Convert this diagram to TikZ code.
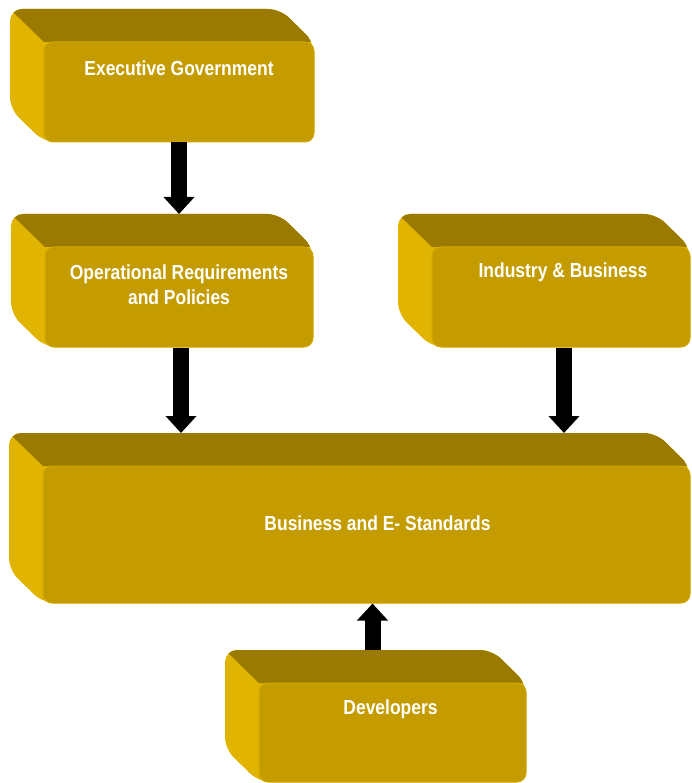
\documentclass[tikz,border=0pt]{standalone}
\usepackage{fontspec}
\setmainfont{Liberation Sans}
\newfontfamily\lblfont[FakeStretch=0.86]{Liberation Sans}
\usetikzlibrary{arrows.meta}
\definecolor{slabfront}{HTML}{C49C00}
\definecolor{slabtop}{HTML}{9A7A00}
\definecolor{slabside}{HTML}{E0B400}
\definecolor{slabedge}{HTML}{D2A700}
\newcommand{\slabback}[4]{%
  \fill[sideface] (#1-34,#2-33) -- (#3-34,#2-33) -- (#3,#2) -- (#3,#4) -- (#1,#4) -- (#1-34,#4-33) -- cycle;
  \begin{scope}
    \clip[rounded corners=12pt] (#1-34,#2-33) -- (#3-34,#2-33) -- (#3,#2) -- (#3,#4) -- (#1,#4) -- (#1-34,#4-33) -- cycle;
    \fill[slabtop] (#1-34,#2-33) -- (#3-34,#2-33) -- (#3,#2) -- (#1,#2) -- cycle;
  \end{scope}}

\begin{document}
\begin{tikzpicture}[x=1pt, y=-1pt,
  sideface/.style={fill=slabside, rounded corners=12pt},
  front/.style={rectangle, rounded corners=9pt, fill=slabfront, draw=slabedge, line width=1pt},
  lbl/.style={text=white, font=\lblfont\bfseries\fontsize{20.3}{24.5}\selectfont, align=center},
  arr/.style={line width=16pt, -{Triangle[width=30pt, length=17pt]}}]
\useasboundingbox (0,0) rectangle (691,783);

\slabback{44}{42}{314}{142}
\node[front, minimum width=270pt, minimum height=100pt] (exec) at (179,92) {};

\slabback{45}{247}{313}{347}
\node[front, minimum width=268pt, minimum height=100pt] (ops) at (179,297) {};
\coordinate (ops-top) at (145,214);

\slabback{432}{247}{690}{347}
\node[front, minimum width=258pt, minimum height=100pt] (ind) at (561,297) {};

\slabback{43}{466}{690}{603}
\node[front, minimum width=647pt, minimum height=137pt] (stds) at (366.5,534.5) {};
\coordinate (stds-top) at (332,433);

\slabback{259}{683}{526}{782}
\node[front, minimum width=267pt, minimum height=99pt] (dev) at (392.5,732.5) {};
\coordinate (dev-top) at (358,650);

\draw[arr] (exec.south) -- (exec.south |- ops-top);
\draw[arr] ([xshift=2pt]ops.south) -- ([xshift=2pt]ops.south |- stds-top);
\draw[arr] ([xshift=3pt]ind.south) -- ([xshift=3pt]ind.south |- stds-top);
\draw[arr] ([xshift=-20pt]dev.north |- dev-top) -- ([xshift=-20pt]dev.north |- stds.south);

\node[lbl] (exectxt) at ([yshift=-27pt]exec.north) {Executive Government};
\node[lbl] (opstxt) at ([yshift=-38pt]ops.north) {Operational Requirements\\and Policies};
\node[lbl] (indtxt) at ([xshift=2pt, yshift=-26pt]ind.north) {Industry \& Business};
\node[lbl] (stdstxt) at ([xshift=11pt, yshift=-58pt]stds.north) {Business and E- Standards};
\node[lbl] (devtxt) at ([xshift=-2pt, yshift=-27pt]dev.north) {Developers};
\end{tikzpicture}
\end{document}
